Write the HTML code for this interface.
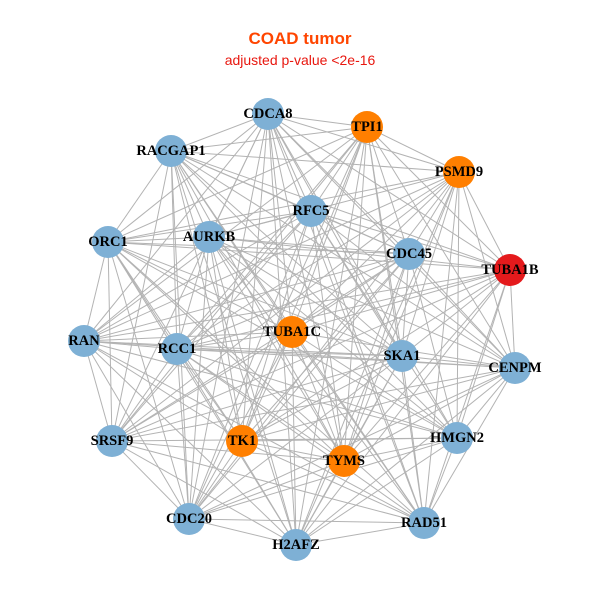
<!DOCTYPE html>
<html><head><meta charset="utf-8"><style>
html,body{margin:0;padding:0;background:#fff;width:600px;height:600px;overflow:hidden}
svg{display:block}
text.l{font-family:"Liberation Serif",serif;font-weight:bold;font-size:14.5px;fill:#000;text-anchor:middle;dominant-baseline:central}
</style></head><body>
<svg id="s" width="600" height="600" viewBox="0 0 600 600">
<text x="300" y="44" text-anchor="middle" font-family="Liberation Sans,sans-serif" font-weight="bold" font-size="17" fill="#FF4500">COAD tumor</text>
<text x="300" y="65" text-anchor="middle" font-family="Liberation Sans,sans-serif" font-size="14" fill="#E8170F">adjusted p-value &lt;2e-16</text>
<g id="e" stroke="#b3b3b3" stroke-width="1"></g>
<g id="n"></g>
<g>
<text class="l" x="268" y="114">CDCA8</text>
<text class="l" x="367" y="127">TPI1</text>
<text class="l" x="171" y="151">RACGAP1</text>
<text class="l" x="459" y="172">PSMD9</text>
<text class="l" x="311" y="211">RFC5</text>
<text class="l" x="209" y="237">AURKB</text>
<text class="l" x="409" y="254">CDC45</text>
<text class="l" x="108" y="242">ORC1</text>
<text class="l" x="510" y="270">TUBA1B</text>
<text class="l" x="292" y="332">TUBA1C</text>
<text class="l" x="84" y="341">RAN</text>
<text class="l" x="177" y="349">RCC1</text>
<text class="l" x="402" y="356">SKA1</text>
<text class="l" x="515" y="368">CENPM</text>
<text class="l" x="112" y="441">SRSF9</text>
<text class="l" x="242" y="441">TK1</text>
<text class="l" x="457" y="438">HMGN2</text>
<text class="l" x="344" y="461">TYMS</text>
<text class="l" x="189" y="519">CDC20</text>
<text class="l" x="424" y="523">RAD51</text>
<text class="l" x="296" y="545">H2AFZ</text>
</g>
</svg>
<script>
var N=[[268,114,'b'],[367,127,'o'],[171,151,'b'],[459,172,'o'],[311,211,'b'],[209,237,'b'],[409,254,'b'],[108,242,'b'],[510,270,'r'],[292,332,'o'],[84,341,'b'],[177,349,'b'],[402,356,'b'],[515,368,'b'],[112,441,'b'],[242,441,'o'],[457,438,'b'],[344,461,'o'],[189,519,'b'],[424,523,'b'],[296,545,'b']];
var C={b:'#7EB0D5',o:'#FF7F00',r:'#E41A1C'};
var ns='http://www.w3.org/2000/svg',E=document.getElementById('e'),G=document.getElementById('n');
for(var i=0;i<N.length;i++)for(var j=i+1;j<N.length;j++){
 if((i*7+j*3)%11==0)continue;
 var l=document.createElementNS(ns,'line');
 l.setAttribute('x1',N[i][0]);l.setAttribute('y1',N[i][1]);l.setAttribute('x2',N[j][0]);l.setAttribute('y2',N[j][1]);E.appendChild(l);}
N.forEach(function(p){var c=document.createElementNS(ns,'circle');c.setAttribute('cx',p[0]);c.setAttribute('cy',p[1]);c.setAttribute('r',16);c.setAttribute('fill',C[p[2]]);G.appendChild(c);});
</script>
</body></html>
